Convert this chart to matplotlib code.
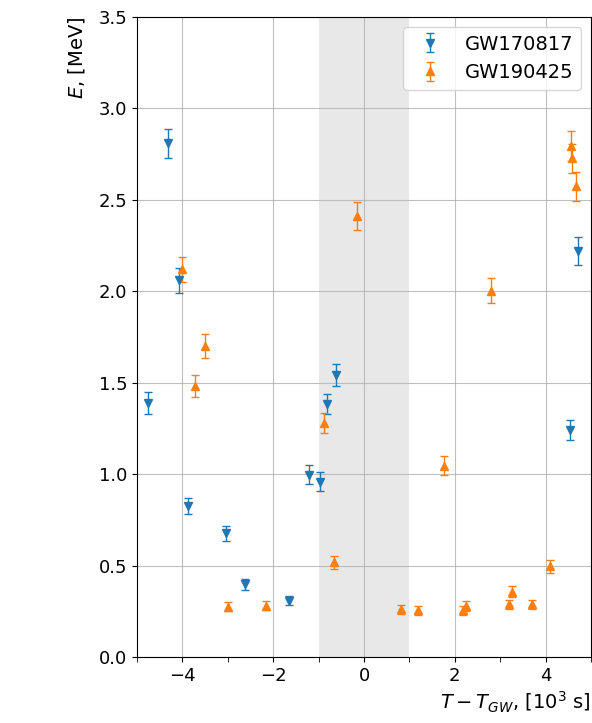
import numpy as np
import matplotlib
matplotlib.use("Agg")
import matplotlib.pyplot as plt

# GW170817 points (time in 10^3 s, energy in MeV, error)
t_170817 = [-4.75, -4.31, -4.07, -3.87, -3.04, -2.62, -1.65, -1.21, -0.97, -0.82, -0.62, 4.54, 4.72]
e_170817 = [1.39, 2.81, 2.06, 0.826, 0.676, 0.398, 0.307, 0.998, 0.959, 1.385, 1.541, 1.242, 2.22]
err_170817 = [0.06, 0.08, 0.07, 0.045, 0.04, 0.03, 0.025, 0.05, 0.05, 0.055, 0.06, 0.055, 0.075]

# GW190425 points
t_190425 = [-4.01, -3.72, -3.50, -2.99, -2.16, -0.875, -0.66, -0.16, 0.81, 1.20, 1.76, 2.18, 2.24,
            2.80, 3.20, 3.25, 3.69, 4.09, 4.55, 4.58, 4.67]
e_190425 = [2.12, 1.48, 1.70, 0.275, 0.281, 1.28, 0.518, 2.41, 0.262, 0.256, 1.047, 0.256, 0.279,
            2.004, 0.289, 0.357, 0.289, 0.496, 2.795, 2.727, 2.574]
err_190425 = [0.07, 0.06, 0.065, 0.025, 0.025, 0.055, 0.035, 0.077, 0.025, 0.025, 0.05, 0.025, 0.025,
              0.07, 0.025, 0.03, 0.025, 0.035, 0.08, 0.08, 0.08]

fig = plt.figure(figsize=(5.92, 7.23), dpi=100)
ax = fig.add_axes([137 / 592, 66 / 723, 454 / 592, 640 / 723])

# область около момента слияния
ax.axvspan(-1, 1, color='lightgray', alpha=0.5, lw=0, zorder=0)

ax.errorbar(t_170817, e_170817, yerr=err_170817, fmt='v', color='tab:blue',
            capsize=3, elinewidth=1, markersize=6, label='GW170817')
ax.errorbar(t_190425, e_190425, yerr=err_190425, fmt='^', color='tab:orange',
            capsize=3, elinewidth=1, markersize=6, label='GW190425')

ax.set_xlim(-5, 5)
ax.set_ylim(0, 3.5)
ax.set_xticks([-4, -2, 0, 2, 4])
ax.set_xticks([-5, -3, -1, 1, 3, 5], minor=True)
ax.set_yticks(np.arange(0, 3.51, 0.5))
ax.tick_params(axis='x', which='minor', length=3.5)
ax.tick_params(labelsize=13)
ax.grid(True, which='major', color='#b0b0b0', alpha=0.8, lw=0.8)

ax.set_xlabel(r'$T-T_{GW}$, [$10^3$ s]', fontsize=14, loc='right')
ax.set_ylabel(r'$E$, [MeV]', fontsize=14, loc='top', labelpad=8)
ax.legend(loc='upper right', fontsize=14)

fig.savefig('out.png', dpi=100)
